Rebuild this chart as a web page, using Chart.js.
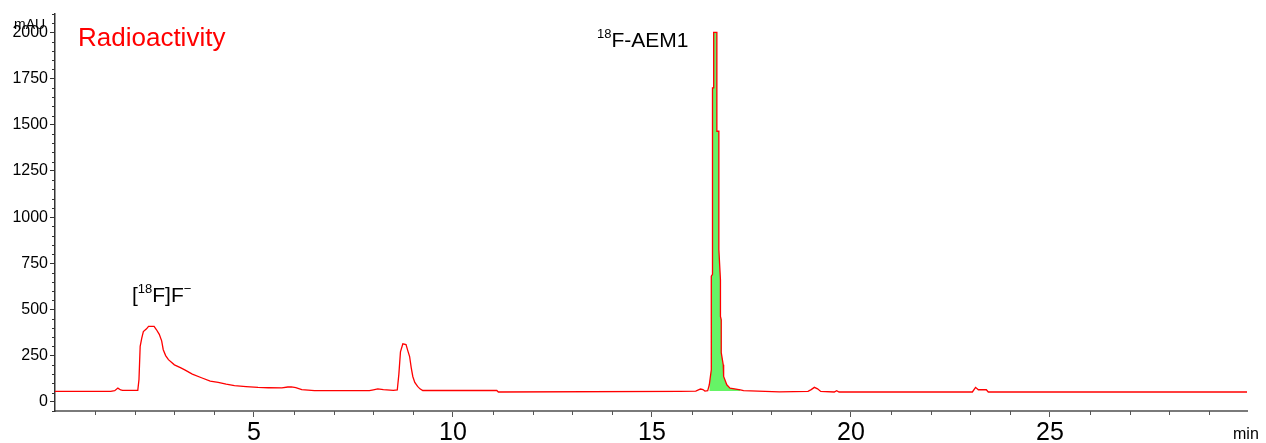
<!DOCTYPE html>
<html>
<head>
<meta charset="utf-8">
<script src="https://cdn.jsdelivr.net/npm/chart.js@4.4.1/dist/chart.umd.min.js"></script>
<style>
  html, body { margin: 0; padding: 0; background: #fff; }
  #wrap { width: 1266px; height: 443px; }
</style>
</head>
<body>
<div id="wrap"><canvas id="chromChart" width="1266" height="443"></canvas></div>
<script>
// retention time (min) and detector signal (mAU)
const times = [
  0.00, 1.40, 1.50, 1.58, 1.65, 1.70, 2.08, 2.11, 2.14, 2.18, 2.22, 2.30, 2.35, 2.49,
  2.55, 2.62, 2.68, 2.72, 2.78, 2.85, 3.00, 3.15, 3.26, 3.45, 3.68, 3.90, 4.10, 4.30,
  4.51, 4.80, 5.10, 5.36, 5.70, 5.85, 5.94, 6.05, 6.20, 6.52, 7.00, 7.90, 8.00, 8.11,
  8.25, 8.50, 8.60, 8.64, 8.68, 8.74, 8.82, 8.86, 8.91, 8.95, 8.99, 9.04, 9.11, 9.17,
  9.24, 11.10, 11.14, 15.70, 16.10, 16.18, 16.22, 16.28, 16.33, 16.40, 16.44, 16.49,
  16.49, 16.52, 16.52, 16.55, 16.55, 16.63, 16.63, 16.68, 16.68, 16.72, 16.72, 16.74,
  16.74, 16.79, 16.80, 16.88, 16.96, 17.22, 17.30, 18.20, 18.92, 19.00,
  19.08, 19.16, 19.24, 19.58, 19.64, 19.70, 23.05, 23.13, 23.20, 23.40, 23.45, 29.97
];
const signal = [
  56, 56, 60, 74, 64, 62, 62, 120, 300, 345, 380, 395, 408, 408,
  390, 365, 330, 282, 250, 228, 200, 185, 173, 150, 130, 112, 105, 95,
  87, 82, 78, 76, 75, 80, 81, 77, 66, 60, 60, 60, 65, 70,
  66, 62, 64, 150, 270, 314, 310, 280, 245, 185, 137, 105, 83, 70,
  61, 61, 53, 56, 58, 66, 69, 66, 58, 60, 92, 173,
  680, 690, 1700, 1700, 2000, 2000, 1465, 1465, 824, 660, 462, 444,
  266, 200, 137, 92, 74, 65, 60, 54, 56, 66,
  78, 70, 56, 53, 60, 53, 53, 78, 65, 65, 53, 53
];

// integrated peak window (18F-AEM1)
const peakStart = 16.42;
const peakEnd = 17.22;
const peakBase = 58;

const yMajorTicks = [0, 250, 500, 750, 1000, 1250, 1500, 1750, 2000];
const xMajorTicks = [5, 10, 15, 20, 25];

const trace = times.map((t, i) => ({ x: t, y: signal[i] }));
const peakArea = trace.filter(p => p.x >= peakStart && p.x <= peakEnd);

const FONT = 'Liberation Sans, Arial, sans-serif';

// minor ticks + text labels drawn against the scales
const decorPlugin = {
  id: 'decor',
  afterDraw(chart) {
    const ctx = chart.ctx;
    const xs = chart.scales.x;
    const ys = chart.scales.y;
    ctx.save();

    // minor ticks
    ctx.lineWidth = 1;
    ctx.strokeStyle = '#333';
    for (let v = -50; v <= 2100; v += 50) {
      if (v % 250 === 0) continue;
      const py = Math.round(ys.getPixelForValue(v)) + 0.5;
      ctx.beginPath();
      ctx.moveTo(ys.right - 3, py);
      ctx.lineTo(ys.right, py);
      ctx.stroke();
    }
    ctx.strokeStyle = '#555';
    for (let t = 1; t < 30; t++) {
      if (t % 5 === 0) continue;
      const px = Math.round(xs.getPixelForValue(t)) + 0.5;
      ctx.beginPath();
      ctx.moveTo(px, xs.top);
      ctx.lineTo(px, xs.top + 4);
      ctx.stroke();
    }

    // axis unit labels
    ctx.fillStyle = '#000';
    ctx.textBaseline = 'alphabetic';
    ctx.textAlign = 'left';
    ctx.font = '14px ' + FONT;
    ctx.fillText('mAU', 14, 29);
    ctx.font = '16px ' + FONT;
    ctx.fillText('min', 1233, 439);

    // trace title
    ctx.fillStyle = '#ff0000';
    ctx.font = '26px ' + FONT;
    ctx.fillText('Radioactivity', 78, 46);

    // peak labels with superscripts
    ctx.fillStyle = '#000';
    const drawParts = (x, y, parts) => {
      for (const p of parts) {
        ctx.font = (p.sup ? '13px ' : '21px ') + FONT;
        ctx.fillText(p.text, x, p.sup ? y - 9 : y);
        x += ctx.measureText(p.text).width;
      }
    };
    drawParts(132, 302, [
      { text: '[' }, { text: '18', sup: true }, { text: 'F]F' }, { text: '\u2212', sup: true }
    ]);
    drawParts(597, 47, [
      { text: '18', sup: true }, { text: 'F-AEM1' }
    ]);

    ctx.restore();
  }
};

new Chart(document.getElementById('chromChart'), {
  type: 'line',
  data: {
    datasets: [
      {
        label: 'Radioactivity',
        data: trace,
        borderColor: '#ff0000',
        borderWidth: 1.3,
        pointRadius: 0,
        tension: 0,
        fill: false,
        order: 0
      },
      {
        label: '18F-AEM1 area',
        data: peakArea,
        borderWidth: 0,
        borderColor: 'rgba(0,0,0,0)',
        backgroundColor: 'rgb(102,244,102)',
        pointRadius: 0,
        tension: 0,
        fill: { value: peakBase },
        order: 1
      }
    ]
  },
  options: {
    responsive: false,
    animation: false,
    devicePixelRatio: 1,
    layout: { padding: { left: 0, top: 14, right: 19, bottom: 0 } },
    plugins: {
      legend: { display: false },
      tooltip: { enabled: false }
    },
    scales: {
      x: {
        type: 'linear',
        min: 0,
        max: 29.95,
        afterBuildTicks: s => { s.ticks = xMajorTicks.map(v => ({ value: v })); },
        afterFit: s => { s.height = 32; },
        grid: { drawOnChartArea: false, tickLength: 6, tickColor: '#555', tickWidth: 1 },
        border: { color: '#7a7a7a', width: 2 },
        ticks: {
          padding: 1,
          color: '#000',
          maxRotation: 0,
          font: { family: FONT, size: 25 },
          callback: v => String(v)
        }
      },
      y: {
        min: -50,
        max: 2100,
        afterBuildTicks: s => { s.ticks = yMajorTicks.map(v => ({ value: v })); },
        afterFit: s => { s.width = 55; },
        grid: { drawOnChartArea: false, tickLength: 5, tickColor: '#333', tickWidth: 1 },
        border: { color: '#333', width: 1.5 },
        ticks: {
          padding: 2,
          color: '#000',
          font: { family: FONT, size: 16 },
          callback: v => String(v)
        }
      }
    }
  },
  plugins: [decorPlugin]
});
</script>
</body>
</html>
